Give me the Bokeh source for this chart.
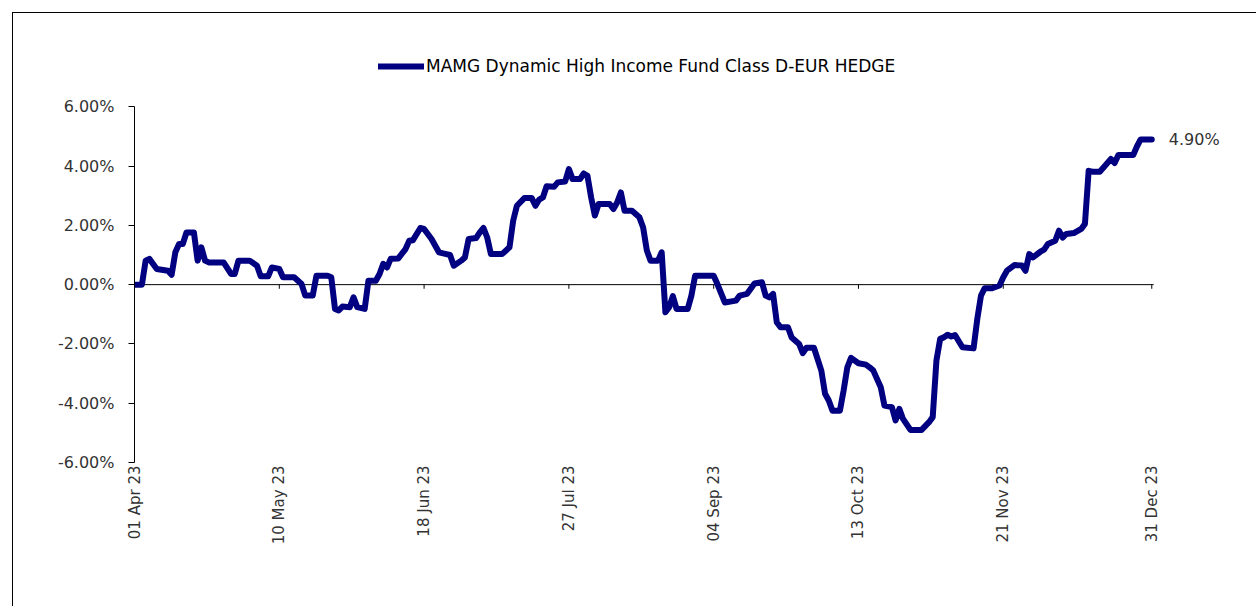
import pandas as pd
from bokeh.plotting import figure
from bokeh.models import (ColumnDataSource, Range1d, FixedTicker, PrintfTickFormatter,
                          Legend, LegendItem, Label)
from bokeh.embed import file_html
from bokeh.resources import INLINE

series_name = "MAMG Dynamic High Income Fund Class D-EUR HEDGE"

dates = [
    "2023-04-01", "2023-04-03", "2023-04-04", "2023-04-05", "2023-04-07", "2023-04-10",
    "2023-04-11", "2023-04-12", "2023-04-13", "2023-04-14", "2023-04-15", "2023-04-17",
    "2023-04-18", "2023-04-19", "2023-04-20", "2023-04-21", "2023-04-25", "2023-04-27",
    "2023-04-28", "2023-04-29", "2023-05-02", "2023-05-04", "2023-05-05", "2023-05-07",
    "2023-05-08", "2023-05-10", "2023-05-11", "2023-05-14", "2023-05-16", "2023-05-17",
    "2023-05-19", "2023-05-20", "2023-05-23", "2023-05-24", "2023-05-25", "2023-05-26",
    "2023-05-27", "2023-05-29", "2023-05-30", "2023-05-31", "2023-06-02", "2023-06-03",
    "2023-06-05", "2023-06-06", "2023-06-07", "2023-06-08", "2023-06-09", "2023-06-11",
    "2023-06-13", "2023-06-14", "2023-06-15", "2023-06-17", "2023-06-18", "2023-06-20",
    "2023-06-22", "2023-06-24", "2023-06-25", "2023-06-26", "2023-06-28", "2023-06-29",
    "2023-06-30", "2023-07-02", "2023-07-03", "2023-07-04", "2023-07-05", "2023-07-06",
    "2023-07-09", "2023-07-11", "2023-07-12", "2023-07-13", "2023-07-15", "2023-07-17",
    "2023-07-18", "2023-07-19", "2023-07-20", "2023-07-21", "2023-07-23", "2023-07-24",
    "2023-07-26", "2023-07-27", "2023-07-28", "2023-07-30", "2023-07-31", "2023-08-01",
    "2023-08-02", "2023-08-03", "2023-08-04", "2023-08-07", "2023-08-08", "2023-08-09",
    "2023-08-10", "2023-08-11", "2023-08-13", "2023-08-15", "2023-08-16", "2023-08-17",
    "2023-08-18", "2023-08-20", "2023-08-21", "2023-08-22", "2023-08-23", "2023-08-24",
    "2023-08-25", "2023-08-28", "2023-08-29", "2023-08-30", "2023-09-04", "2023-09-05",
    "2023-09-07", "2023-09-10", "2023-09-11", "2023-09-13", "2023-09-15", "2023-09-17",
    "2023-09-18", "2023-09-19", "2023-09-20", "2023-09-21", "2023-09-22", "2023-09-24",
    "2023-09-25", "2023-09-27", "2023-09-28", "2023-09-29", "2023-10-01", "2023-10-03",
    "2023-10-04", "2023-10-05", "2023-10-06", "2023-10-08", "2023-10-09", "2023-10-10",
    "2023-10-11", "2023-10-13", "2023-10-15", "2023-10-16", "2023-10-17", "2023-10-19",
    "2023-10-20", "2023-10-22", "2023-10-23", "2023-10-24", "2023-10-25", "2023-10-27",
    "2023-10-30", "2023-11-01", "2023-11-02", "2023-11-03", "2023-11-04", "2023-11-05",
    "2023-11-06", "2023-11-07", "2023-11-08", "2023-11-10", "2023-11-13", "2023-11-14",
    "2023-11-15", "2023-11-16", "2023-11-18", "2023-11-20", "2023-11-21", "2023-11-22",
    "2023-11-24", "2023-11-26", "2023-11-27", "2023-11-28", "2023-11-29", "2023-12-01",
    "2023-12-02", "2023-12-03", "2023-12-05", "2023-12-06", "2023-12-07", "2023-12-08",
    "2023-12-10", "2023-12-12", "2023-12-13", "2023-12-14", "2023-12-15", "2023-12-17",
    "2023-12-18", "2023-12-20", "2023-12-21", "2023-12-22", "2023-12-26", "2023-12-27",
    "2023-12-28", "2023-12-31",
]

returns_pct = [
    0.00, 0.00, 0.81, 0.87, 0.53, 0.47,
    0.33, 1.09, 1.37, 1.37, 1.76, 1.76,
    0.81, 1.26, 0.81, 0.75, 0.75, 0.36,
    0.36, 0.81, 0.81, 0.64, 0.28, 0.28,
    0.58, 0.53, 0.25, 0.25, 0.02, -0.37,
    -0.37, 0.30, 0.30, 0.25, -0.82, -0.87,
    -0.74, -0.76, -0.43, -0.76, -0.82, 0.13,
    0.13, 0.36, 0.70, 0.58, 0.87, 0.88,
    1.20, 1.48, 1.50, 1.91, 1.88, 1.54,
    1.09, 1.03, 1.00, 0.64, 0.81, 0.92,
    1.54, 1.57, 1.76, 1.91, 1.59, 1.03,
    1.03, 1.26, 2.16, 2.66, 2.92, 2.92,
    2.66, 2.87, 2.94, 3.32, 3.30, 3.45,
    3.48, 3.90, 3.56, 3.56, 3.75, 3.67,
    2.94, 2.33, 2.72, 2.72, 2.55, 2.77,
    3.11, 2.49, 2.49, 2.27, 1.93, 1.15,
    0.81, 0.81, 1.09, -0.93, -0.76, -0.39,
    -0.82, -0.82, -0.37, 0.30, 0.30, 0.02,
    -0.60, -0.54, -0.37, -0.31, 0.04, 0.08,
    -0.37, -0.43, -0.31, -1.27, -1.44, -1.44,
    -1.78, -2.00, -2.31, -2.13, -2.13, -2.90,
    -3.68, -3.91, -4.25, -4.25, -3.57, -2.79,
    -2.47, -2.65, -2.70, -2.79, -2.90, -3.46,
    -4.08, -4.13, -4.58, -4.19, -4.53, -4.90,
    -4.90, -4.64, -4.47, -2.56, -1.83, -1.78,
    -1.69, -1.75, -1.70, -2.11, -2.15, -1.16,
    -0.37, -0.12, -0.12, -0.03, 0.25, 0.47,
    0.66, 0.65, 0.47, 1.03, 0.92, 1.11,
    1.18, 1.37, 1.48, 1.82, 1.59, 1.71,
    1.74, 1.88, 2.05, 3.84, 3.81, 3.81,
    3.95, 4.24, 4.10, 4.37, 4.37, 4.66,
    4.90, 4.90,
]

tick_dates = ["2023-04-01", "2023-05-10", "2023-06-18", "2023-07-27",
              "2023-09-04", "2023-10-13", "2023-11-21", "2023-12-31"]
tick_labels = ["01 Apr 23", "10 May 23", "18 Jun 23", "27 Jul 23",
               "04 Sep 23", "13 Oct 23", "21 Nov 23", "31 Dec 23"]
y_ticks = [-6, -4, -2, 0, 2, 4, 6]

FONT = "DejaVu Sans"
TXT = "#333333"
NAVY = "#000080"

x = pd.to_datetime(dates)
src = ColumnDataSource(dict(date=x, value=returns_pct))

tick_dt = pd.to_datetime(tick_dates)
epoch = pd.Timestamp("1970-01-01")
tick_ms = [float((t - epoch) / pd.Timedelta(milliseconds=1)) for t in tick_dt]

x_start = pd.Timestamp("2023-04-01")
axis_end = pd.Timestamp("2023-12-31 12:00")
view_end = axis_end + pd.Timedelta(days=23.4)   # room on the right for the end label
y_lo, y_hi = min(y_ticks), max(y_ticks)

# frame extends above and right of the axes so legend and end label sit inside it
p = figure(width=1244, height=594, x_axis_type="datetime",
           x_range=Range1d(x_start, view_end), y_range=Range1d(y_lo, y_hi + 2),
           output_backend="svg", toolbar_location=None,
           min_border_left=121, min_border_right=17,
           min_border_top=34, min_border_bottom=145,
           margin=(12, 0, 0, 12))
p.styles = {"border-top": "1px solid #000000", "border-left": "1px solid #000000"}
p.outline_line_color = None
p.xgrid.grid_line_color = None
p.ygrid.grid_line_color = None
p.background_fill_color = "white"
p.border_fill_color = "white"

# zero line with tick marks
p.segment(x0=[x_start], y0=[0], x1=[axis_end], y1=[0], line_color="#000000", line_width=1)
p.segment(x0=tick_dt, y0=[0] * len(tick_dt), x1=tick_dt, y1=[-0.14] * len(tick_dt),
          line_color="#000000", line_width=1)

r = p.line(x="date", y="value", source=src, line_color=NAVY, line_width=6,
           line_join="round", line_cap="round")

# y axis
yax = p.yaxis[0]
yax.bounds = (y_lo, y_hi)
yax.ticker = FixedTicker(ticks=y_ticks)
yax.formatter = PrintfTickFormatter(format="%.2f%%")
yax.axis_line_color = "#000000"
yax.major_tick_line_color = "#000000"
yax.major_tick_in = 0
yax.major_tick_out = 6
yax.minor_tick_line_color = None
yax.major_label_standoff = 14
yax.major_label_text_font = FONT
yax.major_label_text_font_size = "16px"
yax.major_label_text_color = TXT

# x axis (labels only, at the bottom)
xax = p.xaxis[0]
xax.ticker = FixedTicker(ticks=tick_ms)
xax.major_label_overrides = {ms: lab for ms, lab in zip(tick_ms, tick_labels)}
xax.major_label_orientation = 3.14159265 / 2
xax.axis_line_color = None
xax.major_tick_line_color = None
xax.minor_tick_line_color = None
xax.major_tick_out = 0
xax.major_tick_in = 0
xax.major_label_standoff = 3
xax.major_label_text_font = FONT
xax.major_label_text_font_size = "15px"
xax.major_label_text_color = TXT

legend = Legend(items=[LegendItem(label=series_name, renderers=[r])],
                location=(244, 386), orientation="horizontal",
                glyph_width=46, glyph_height=18, label_standoff=2,
                label_text_font=FONT, label_text_font_size="17px",
                label_text_color="#000000",
                border_line_color=None, background_fill_alpha=0,
                padding=0, margin=0)
p.add_layout(legend, "center")

p.add_layout(Label(x=x[-1], y=returns_pct[-1], x_offset=17,
                   text=f"{returns_pct[-1]:.2f}%", text_baseline="middle",
                   text_align="left", text_font=FONT, text_font_size="16px",
                   text_color=TXT))

open("out.html", "w").write(file_html(p, INLINE))
